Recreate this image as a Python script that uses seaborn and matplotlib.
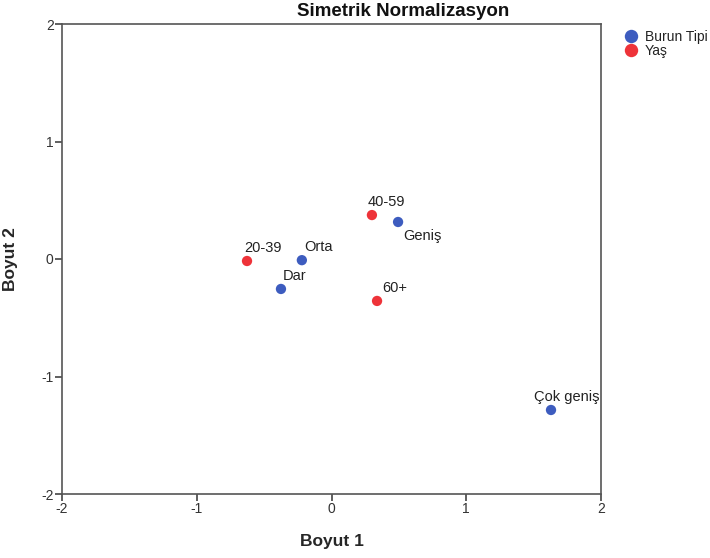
import matplotlib
matplotlib.use("Agg")
import matplotlib.pyplot as plt
import seaborn as sns
import pandas as pd

burun_labels = ["Dar", "Orta", "Geniş", "Çok geniş"]
burun_x = [-0.375, -0.22, 0.494, 1.629]
burun_y = [-0.255, -0.01, 0.315, -1.285]

yas_labels = ["20-39", "40-59", "60+"]
yas_x = [-0.627, 0.30, 0.338]
yas_y = [-0.017, 0.374, -0.357]

groups = ["Burun Tipi", "Yaş"]
colors = ["#3d5cbf", "#ee3339"]
ticks = [-2, -1, 0, 1, 2]

df = pd.DataFrame({
    "x": burun_x + yas_x,
    "y": burun_y + yas_y,
    "label": burun_labels + yas_labels,
    "group": [groups[0]] * len(burun_x) + [groups[1]] * len(yas_x),
})

sns.set_style("white")
plt.rcParams["font.family"] = ["Liberation Sans", "DejaVu Sans"]

fig = plt.figure(figsize=(7.1, 5.58), dpi=100)
ax = fig.add_axes([62 / 710, 1 - 494 / 558, (601 - 62) / 710, (494 - 24) / 558])

sns.scatterplot(data=df, x="x", y="y", hue="group", palette=colors,
                s=55, edgecolor="none", ax=ax, legend=True, zorder=3)

offsets = {
    "Dar": (2, 6), "Orta": (2, 6), "Geniş": (5, -21), "Çok geniş": (-17, 6),
    "20-39": (-3, 6), "40-59": (-4, 6), "60+": (5, 6),
}
for _, r in df.iterrows():
    ax.annotate(r["label"], (r["x"], r["y"]), xytext=offsets[r["label"]],
                textcoords="offset pixels", fontsize=10.5, color="#222222",
                ha="left", va="bottom")

ax.set_xlim(-2, 2)
ax.set_ylim(-2, 2)
ax.set_xticks(ticks)
ax.set_yticks(ticks)
ax.set_xticklabels([str(t) for t in ticks])
ax.set_yticklabels([str(t) for t in ticks])
ax.tick_params(axis="both", which="both", direction="out", length=5, width=1.2,
               color="#444444", labelcolor="#333333", labelsize=10, pad=1,
               bottom=True, left=True)
for sp in ax.spines.values():
    sp.set_color("#555555")
    sp.set_linewidth(1.2)

ax.set_xlabel("Boyut 1", fontsize=12.5, fontweight="bold", labelpad=13)
ax.set_ylabel("Boyut 2", fontsize=12.5, fontweight="bold", labelpad=17)

fig.text(403 / 710, 1 - 11 / 558, "Simetrik Normalizasyon", ha="center", va="center",
         fontsize=13.5, fontweight="bold", color="#111111")

leg = ax.legend(loc="upper left", bbox_to_anchor=(1.02, 1.0), frameon=False,
                fontsize=10, handletextpad=0.0, borderaxespad=0, labelspacing=0.05,
                markerscale=1.3)
for t in leg.get_texts():
    t.set_color("#222222")

fig.savefig("out.png", dpi=100)
